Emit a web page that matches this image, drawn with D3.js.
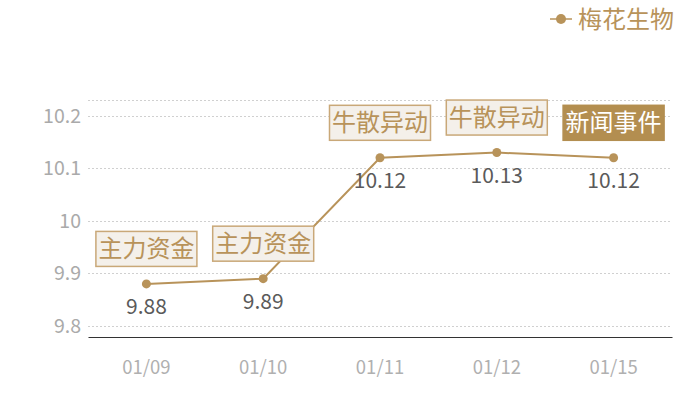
<!DOCTYPE html>
<html>
<head>
<meta charset="utf-8">
<script src="https://cdn.jsdelivr.net/npm/d3@7/dist/d3.min.js"></script>
<style>
  body { margin: 0; background: #fff; }
  text { font-family: "Noto Sans CJK SC", "Noto Sans", sans-serif; }
</style>
</head>
<body>
<div id="chart"></div>
<script>
// chart data
var dates = ["01/09", "01/10", "01/11", "01/12", "01/15"];
var prices = [9.88, 9.89, 10.12, 10.13, 10.12];
var tags = ["主力资金", "主力资金", "牛散异动", "牛散异动", "新闻事件"];
var tagFilled = [false, false, false, false, true];
var yTicks = [9.8, 9.9, 10, 10.1, 10.2];
var seriesName = "梅花生物";

var gold = "#b8935a";

var svg = d3.select("#chart")
    .append("svg")
    .attr("width", 700)
    .attr("height", 400);

// scales
var x = d3.scaleBand()
    .domain(dates)
    .range([88, 672]);

var y = d3.scaleLinear()
    .domain([9.779, 10.23])
    .range([337, 100]);

// grid lines (ticks plus top edge)
svg.selectAll(".grid")
    .data(yTicks.concat([y.domain()[1]]))
    .enter()
    .append("line")
    .attr("x1", 88)
    .attr("x2", 672)
    .attr("y1", function (d) { return Math.round(y(d)) + 0.5; })
    .attr("y2", function (d) { return Math.round(y(d)) + 0.5; })
    .attr("stroke", "#d0d0d0")
    .attr("stroke-dasharray", "2,2");

// y axis labels
var yAxis = svg.append("g")
    .attr("transform", "translate(88,0)")
    .call(d3.axisLeft(y).tickValues(yTicks).tickSize(0).tickPadding(7)
        .tickFormat(function (d) { return String(d); }));
yAxis.select(".domain").remove();
yAxis.selectAll("text")
    .attr("fill", "#aaa")
    .style("font-size", "19.5px");

// x axis
var xAxis = svg.append("g")
    .attr("transform", "translate(0,337)")
    .call(d3.axisBottom(x).tickSize(0).tickPadding(24));
xAxis.select(".domain").attr("stroke", "#333").attr("stroke-width", 1.2);
xAxis.selectAll("text")
    .attr("fill", "#b0b0b0")
    .style("font-size", "18.5px");

var pts = dates.map(function (d, i) {
    return { date: d, value: prices[i], tag: tags[i], filled: tagFilled[i] };
});

function cx(d) { return x(d.date) + x.bandwidth() / 2; }

// line
svg.append("path")
    .datum(pts)
    .attr("fill", "none")
    .attr("stroke", gold)
    .attr("stroke-width", 2)
    .attr("d", d3.line().x(cx).y(function (d) { return y(d.value); }));

// points
svg.selectAll(".dot")
    .data(pts)
    .enter()
    .append("circle")
    .attr("cx", cx)
    .attr("cy", function (d) { return y(d.value); })
    .attr("r", 4.5)
    .attr("fill", gold);

// value labels
svg.selectAll(".val")
    .data(pts)
    .enter()
    .append("text")
    .attr("x", cx)
    .attr("y", function (d) { return y(d.value) + 30; })
    .attr("text-anchor", "middle")
    .attr("fill", "#5a5a5a")
    .style("font-size", "21px")
    .text(function (d) { return d.value.toFixed(2); });

// tag boxes above points
var tagG = svg.selectAll(".tag")
    .data(pts)
    .enter()
    .append("g")
    .attr("transform", function (d) {
        return "translate(" + cx(d) + "," + (y(d.value) - 17) + ")";
    });

tagG.append("rect")
    .attr("x", -50.5)
    .attr("y", -35.5)
    .attr("width", 101)
    .attr("height", 35)
    .attr("fill", function (d) { return d.filled ? "#b38e50" : "#f4f0ea"; })
    .attr("stroke", function (d) { return d.filled ? "#b38e50" : "#c9a878"; })
    .attr("stroke-width", 1.5);

tagG.append("text")
    .attr("x", 0)
    .attr("y", -9.5)
    .attr("text-anchor", "middle")
    .attr("fill", function (d) { return d.filled ? "#fff" : gold; })
    .style("font-size", "24px")
    .text(function (d) { return d.tag; });

// legend
var legend = svg.append("g").attr("transform", "translate(550,19)");
legend.append("line")
    .attr("x1", 0).attr("x2", 22)
    .attr("stroke", gold).attr("stroke-width", 1.5);
legend.append("circle")
    .attr("cx", 11).attr("r", 5)
    .attr("fill", gold);
legend.append("text")
    .attr("x", 28)
    .attr("y", 9)
    .attr("fill", gold)
    .style("font-size", "24px")
    .text(seriesName);
</script>
</body>
</html>
